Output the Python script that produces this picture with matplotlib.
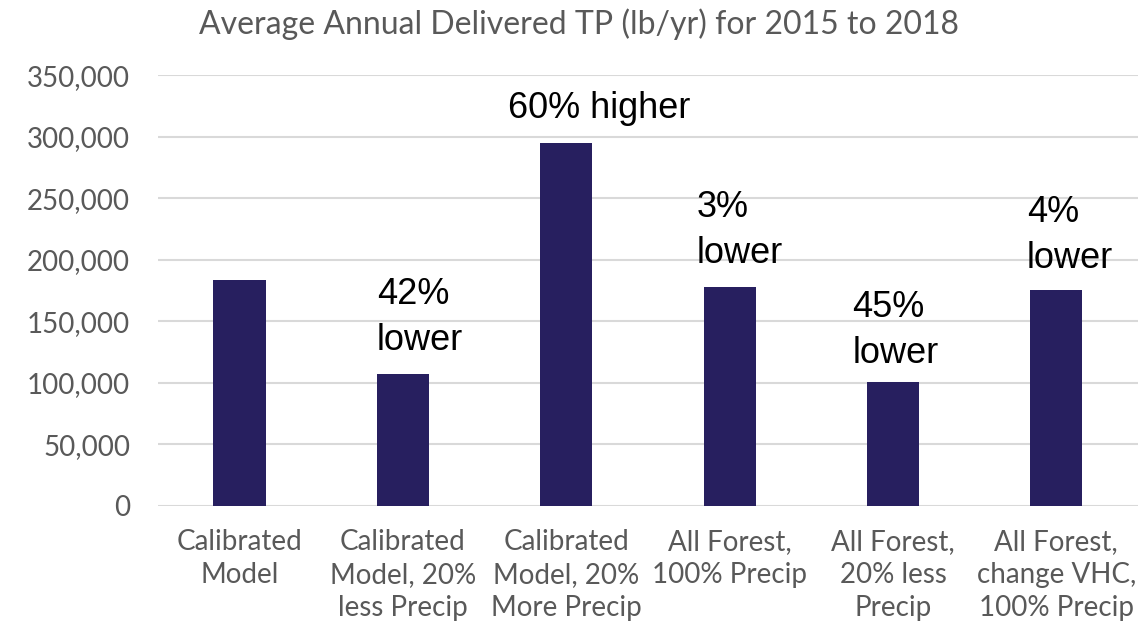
import matplotlib
matplotlib.use("Agg")
import matplotlib.pyplot as plt
from matplotlib.ticker import FuncFormatter

# chart data
scenarios = [
    "Calibrated\nModel",
    "Calibrated\nModel, 20%\nless Precip",
    "Calibrated\nModel, 20%\nMore Precip",
    "All Forest,\n100% Precip",
    "All Forest,\n20% less\nPrecip",
    "All Forest,\nchange VHC,\n100% Precip",
]
tp_lb_per_yr = [183500, 106800, 294600, 177800, 100800, 175400]
change_labels = ["", "42%\nlower", "60% higher", "3%\nlower", "45%\nlower", "4%\nlower"]

# where each note sits (x offset from bar centre, baseline of last line)
note_dx = [0, -0.16, -0.36, -0.20, -0.25, -0.18]
note_y = [0, 126600, 315200, 197300, 116000, 193300]

BAR = "#271f5f"
GREY = "#595959"
TICK_FONT = "Lato"

fig = plt.figure(figsize=(11.38, 6.25), dpi=100)
ax = fig.add_axes([0.1388, 0.1909, 0.8612, 0.6886])

x = range(len(scenarios))
ax.bar(x, tp_lb_per_yr, width=0.32, color=BAR, zorder=3)

for i, txt in enumerate(change_labels):
    if txt:
        ax.text(i + note_dx[i], note_y[i], txt, ha="left", va="baseline",
                fontsize=26, color="black", family="Liberation Sans",
                linespacing=1.4, zorder=4)

ax.set_xlim(-0.5, len(scenarios) - 0.5)
ax.set_ylim(0, 350000)
ax.set_yticks(range(0, 350001, 50000))
ax.yaxis.set_major_formatter(FuncFormatter(lambda v, p: f"{int(v):,}"))
ax.set_xticks(list(x))
ax.set_xticklabels(scenarios, linespacing=1.32)

ax.tick_params(axis="both", length=0, labelsize=20, labelcolor=GREY)
ax.tick_params(axis="y", pad=20)
ax.tick_params(axis="x", pad=17)
for lab in ax.get_xticklabels() + ax.get_yticklabels():
    lab.set_family(TICK_FONT)

for s in ax.spines.values():
    s.set_visible(False)
ax.grid(axis="y", color="#d9d9d9", linewidth=1.5, zorder=0)
ax.set_axisbelow(True)

fig.text(0.509, 0.962, "Average Annual Delivered TP (lb/yr) for 2015 to 2018",
         ha="center", va="center", fontsize=23, color=GREY, family=TICK_FONT)

fig.savefig("out.png", dpi=100)
